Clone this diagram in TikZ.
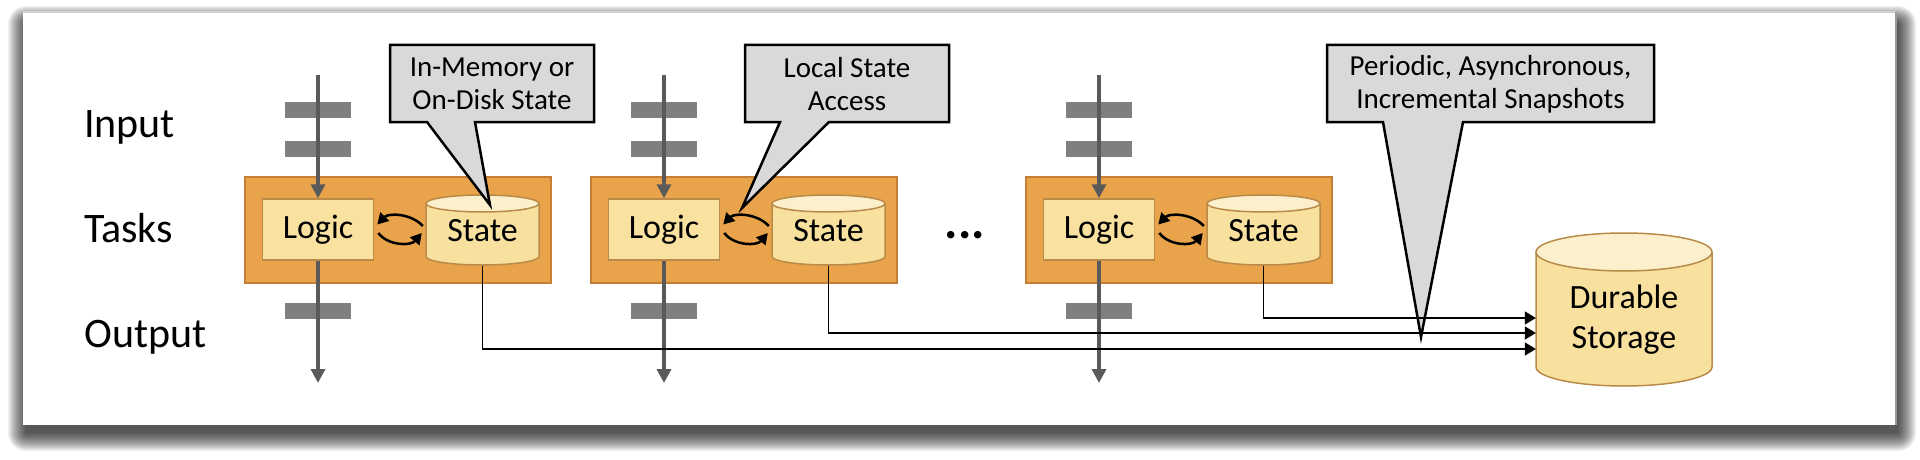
\documentclass[tikz,border=0pt]{standalone}
\usepackage{fontspec}
\setmainfont{Carlito}
\usetikzlibrary{arrows.meta,calc}
\definecolor{orangebox}{HTML}{E9A34A}
\definecolor{orangeedge}{HTML}{C47F35}
\definecolor{logicfill}{HTML}{F9E2A0}
\definecolor{yedge}{HTML}{B98A48}
\definecolor{cylbody}{HTML}{F8E19E}
\definecolor{cyltop}{HTML}{FCF0CC}
\definecolor{packetgray}{HTML}{7F7F7F}
\definecolor{flowgray}{HTML}{5A5A5A}
\definecolor{calloutgray}{HTML}{D9D9D9}
\newcommand\cylshape[5]{%
  \fill[cylbody] ({#1-#4},#2) -- ({#1-#4},#3) arc[start angle=180,end angle=360,x radius=#4pt,y radius=#5pt] -- ({#1+#4},#2) -- cycle;
  \fill[cyltop] (#1,#2) ellipse[x radius=#4pt, y radius=#5pt];
  \draw[yedge, line width=1.5pt] ({#1-#4},#2) -- ({#1-#4},#3) arc[start angle=180,end angle=360,x radius=#4pt,y radius=#5pt] -- ({#1+#4},#2);
  \draw[yedge, line width=1.5pt] (#1,#2) ellipse[x radius=#4pt, y radius=#5pt];
}
\tikzset{
  rowlabel/.style={anchor=base west, font=\fontsize{42}{50}\selectfont, inner sep=0},
  taskbox/.style={draw=orangeedge, fill=orangebox, line width=1.5pt, minimum width=306pt, minimum height=106pt, inner sep=0},
  logicbox/.style={draw=yedge, fill=logicfill, line width=1.5pt, minimum width=111pt, minimum height=61pt, font=\fontsize{34}{40}\selectfont, inner sep=0},
  statenode/.style={minimum width=113pt, minimum height=70pt, font=\fontsize{34}{40}\selectfont, inner sep=0},
  storenode/.style={minimum width=176pt, align=center, font=\fontsize{34}{40}\selectfont, inner sep=0},
  packet/.style={fill=packetgray, minimum width=66pt, minimum height=16pt, inner sep=0},
  flow/.style={draw=flowgray, line width=4pt, -{Triangle[length=14pt,width=14pt]}},
  swaparrow/.style={draw=black, line width=2.5pt, -{Triangle[length=11pt,width=12pt]}},
  snap/.style={draw=black, line width=1.8pt, -{Triangle[length=11pt,width=13pt]}},
  callshape/.style={draw=black, fill=calloutgray, line width=2.5pt, line join=miter},
  calltext/.style={align=center, font=\fontsize{29}{33}\selectfont, inner sep=0},
}
\begin{document}
\begin{tikzpicture}[x=1pt,y=-1pt]
\useasboundingbox (0,0) rectangle (1920,460);
\fill[white] (0,0) rectangle (1920,460);
% soft shadow of the frame
\foreach \s in {18,17,...,0}{
  \fill[black, opacity=0.05, rounded corners=\s pt] ({23+3-\s},{12+12-\s}) rectangle ({1896+2+\s},{425+8+\s});
}
\fill[white] (23,12) rectangle (1896,425);
\draw[black!18, line width=1.5pt] (23,12) -- (1896,12);
\draw[black!40, line width=2pt] (1896,12) -- (1896,425);
% row labels
\node[rowlabel] (inputlbl) at (84,137) {Input};
\node[rowlabel] (taskslbl) at (84,242) {Tasks};
\node[rowlabel] (outputlbl) at (84,347) {Output};
% tasks
\foreach \i/\L in {1/245, 2/591, 3/1026}{
  \pgfmathsetmacro\lx{\L+73}
  \pgfmathsetmacro\cx{\L+237.5}
  \pgfmathsetmacro\bx{\L+153}
  \node[taskbox] (task\i) at (\bx,230) {};
  \node[packet] (pa\i) at (\lx,110) {};
  \node[packet] (pb\i) at (\lx,149) {};
  \node[packet] (pc\i) at (\lx,311) {};
  \node[logicbox] (logic\i) at (\lx,229.5) {Logic};
  \cylshape{\cx}{203.5}{256.5}{56.5}{8.5}
  \node[statenode] (state\i) at (\cx,231) {State};
  \coordinate (in\i) at (\lx,75);
  \coordinate (out\i) at (\lx,383);
  \draw[flow] (in\i) -- (logic\i.north);
  \draw[flow] (logic\i.south) -- (out\i);
  \draw[swaparrow] ($(state\i.west)+(-3,-5)$) .. controls +(-12,-13) and +(11,-11.5) .. ($(logic\i.east)+(3,-5)$);
  \draw[swaparrow] ($(logic\i.east)+(4,3.5)$) .. controls +(10,13) and +(-11,13) .. ($(state\i.west)+(-4,2)$);
}
\node[anchor=base, font=\fontsize{50}{50}\selectfont\bfseries] (dots) at (965,238) {...};
% durable storage
\cylshape{1624}{252}{367}{88}{19}
\node[storenode] (store) at (1624,320) {Durable\\Storage};
% callouts
\draw[callshape] (390,45) -- (594,45) -- (594,122) -- (475,122) -- (490,205) -- (427,122) -- (390,122) -- cycle;
\node[calltext] (call1) at (492,84) {In-Memory or\\On-Disk State};
\draw[callshape] (745,45) -- (949,45) -- (949,122) -- (829,122) -- (742,208) -- (780,122) -- (745,122) -- cycle;
\node[calltext] (call2) at (847,84) {Local State\\Access};
\draw[callshape] (1327,45) -- (1654,45) -- (1654,122) -- (1463,122) -- (1421,337) -- (1383,122) -- (1327,122) -- cycle;
\node[calltext] (call3) at (1490.5,84) {Periodic, Asynchronous,\\Incremental Snapshots};
% snapshot connectors
\draw[snap] (state3.south) |- ([yshift=2pt]store.west);
\draw[snap] (state2.south) |- ([yshift=-13pt]store.west);
\draw[snap] (state1.south) |- ([yshift=-29pt]store.west);
\end{tikzpicture}
\end{document}
